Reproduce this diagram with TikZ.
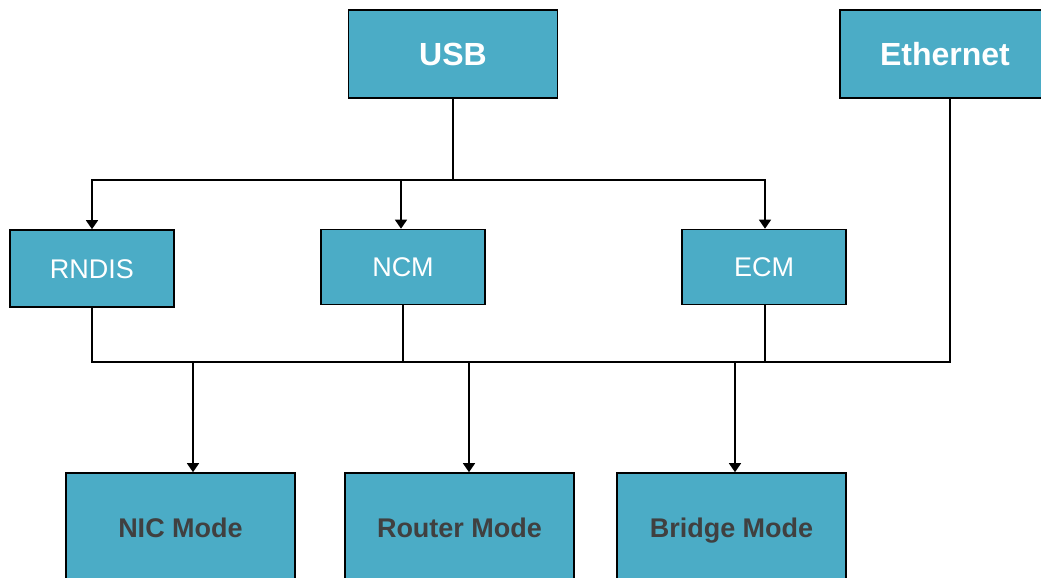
\documentclass[tikz,border=0pt]{standalone}
\usepackage{fontspec}
\setmainfont{Liberation Sans}
\usetikzlibrary{arrows.meta}
\definecolor{boxblue}{RGB}{75,172,198}
\definecolor{modegray}{RGB}{64,64,64}
\tikzset{
  blk/.style={draw=black, line width=1.6pt, fill=boxblue, inner sep=0pt, text depth=0pt},
  src/.style={blk, minimum width=209pt, minimum height=88pt, text=white, text height=23pt,
    font=\fontsize{32}{38}\selectfont\bfseries},
  drv/.style={blk, minimum width=164pt, minimum height=75pt, text=white, text height=19pt,
    font=\fontsize{27}{32}\selectfont},
  mode/.style={blk, minimum width=229pt, minimum height=110pt, text=modegray, text height=19.5pt,
    font=\fontsize{27}{32}\selectfont\bfseries},
  wire/.style={line width=1.4pt},
  arr/.style={wire, -{Triangle[width=12pt,length=9pt]}}
}
\begin{document}
\begin{tikzpicture}[x=1pt,y=-1pt]
  \useasboundingbox (0,0) rectangle (1041,578);
  % sources
  \node[src] (usb) at (453,54) {USB};
  \node[src, minimum width=210pt] (eth) at (945,54) {Ethernet};
  % drivers
  \node[drv, minimum height=77pt] (rndis) at (92,268.5) {RNDIS};
  \node[drv] (ncm) at (403,267) {NCM};
  \node[drv] (ecm) at (764,267) {ECM};
  % modes
  \node[mode] (nic) at (180.5,528) {NIC Mode};
  \node[mode] (router) at (459.5,528) {Router Mode};
  \node[mode] (bridge) at (731.5,528) {Bridge Mode};
  % usb fan-out
  \coordinate (split) at (453,180);
  \coordinate (bus) at (0,362);
  \draw [wire] (usb) -- (split);
  \draw [arr] (split) -| (rndis.north);
  \draw [arr] (split) -| ([xshift=-2pt]ncm.north);
  \draw [arr] (split) -| ([xshift=1pt]ecm.north);
  % collect onto bus
  \draw [wire] (rndis.south) -- (rndis.south |- bus) -- ([xshift=5pt]eth.south |- bus) -- ([xshift=5pt]eth.south);
  \draw [wire] (ncm.south) -- (ncm.south |- bus);
  \draw [wire] ([xshift=1pt]ecm.south) -- ([xshift=1pt]ecm.south |- bus);
  % bus to modes
  \coordinate (t1) at (193,362);
  \coordinate (t2) at (469,362);
  \coordinate (t3) at (735,362);
  \draw [arr] (t1) -- (t1 |- nic.north);
  \draw [arr] (t2) -- (t2 |- router.north);
  \draw [arr] (t3) -- (t3 |- bridge.north);
\end{tikzpicture}
\end{document}
